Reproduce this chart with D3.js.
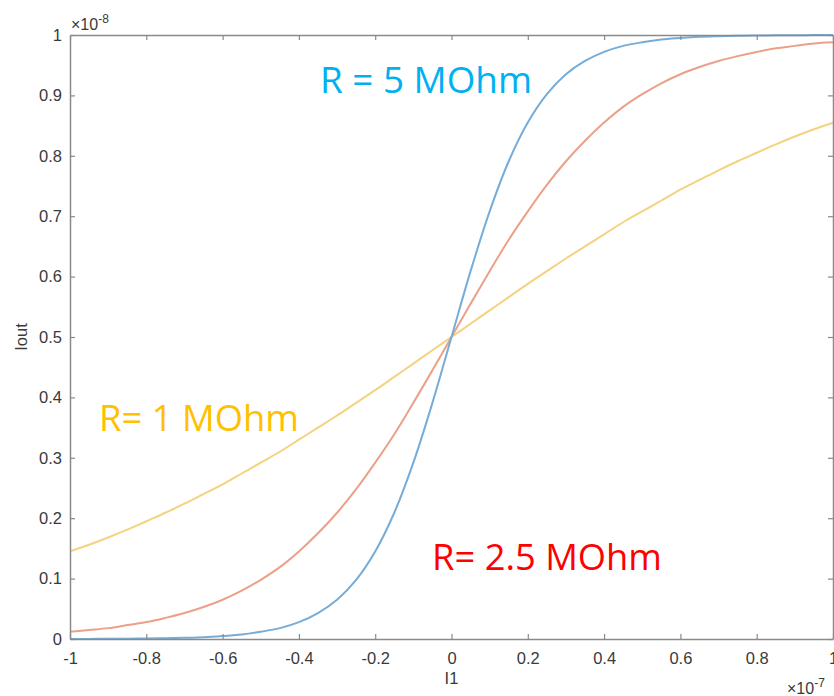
<!DOCTYPE html>
<html>
<head>
<meta charset="utf-8">
<script src="https://cdn.jsdelivr.net/npm/d3@7"></script>
<style>
  html, body { margin: 0; padding: 0; background: #fff; }
  svg { display: block; }
</style>
</head>
<body>
<svg id="chart" width="834" height="696"></svg>
<script>
// Input current I1 (units of 1e-7 A)
const I1 = [-1, -0.95, -0.9, -0.85, -0.8, -0.75, -0.7, -0.65, -0.6, -0.55, -0.5,
            -0.45, -0.4, -0.35, -0.3, -0.25, -0.2, -0.15, -0.1, -0.05, 0,
            0.05, 0.1, 0.15, 0.2, 0.25, 0.3, 0.35, 0.4, 0.45, 0.5,
            0.55, 0.6, 0.65, 0.7, 0.75, 0.8, 0.85, 0.9, 0.95, 1];

// Output current Iout (units of 1e-8 A) for each resistance
const iout1M = [0.145, 0.156, 0.168, 0.181, 0.195, 0.209, 0.224, 0.240, 0.256, 0.274, 0.292,
                0.310, 0.330, 0.350, 0.370, 0.391, 0.412, 0.434, 0.456, 0.478, 0.500,
                0.522, 0.544, 0.566, 0.588, 0.609, 0.630, 0.650, 0.670, 0.690, 0.708,
                0.726, 0.744, 0.760, 0.776, 0.791, 0.805, 0.819, 0.832, 0.844, 0.855];
const iout2_5M = [0.012, 0.015, 0.018, 0.023, 0.028, 0.035, 0.043, 0.053, 0.065, 0.080, 0.098,
                  0.119, 0.145, 0.175, 0.209, 0.248, 0.292, 0.339, 0.391, 0.445, 0.500,
                  0.555, 0.609, 0.661, 0.708, 0.752, 0.791, 0.825, 0.855, 0.881, 0.902,
                  0.920, 0.935, 0.947, 0.957, 0.965, 0.972, 0.978, 0.982, 0.986, 0.988];
const iout5M = [0.0001, 0.0002, 0.0003, 0.0005, 0.0008, 0.0013, 0.002, 0.003, 0.005, 0.0075, 0.012,
                0.018, 0.028, 0.043, 0.065, 0.098, 0.145, 0.209, 0.292, 0.391, 0.500,
                0.609, 0.708, 0.791, 0.855, 0.902, 0.935, 0.957, 0.972, 0.982, 0.988,
                0.9925, 0.995, 0.997, 0.998, 0.9987, 0.9992, 0.9995, 0.9997, 0.9998, 0.9999];

const seriesNames  = ["R = 5 MOhm", "R= 2.5 MOhm", "R= 1 MOhm"];
const seriesValues = [iout5M, iout2_5M, iout1M];
const lineColors   = ["#76acd8", "#eca088", "#f5d27f"];
const labelColors  = ["#00B0F0", "#FF0000", "#FFC000"];

const xTicks = [-1, -0.8, -0.6, -0.4, -0.2, 0, 0.2, 0.4, 0.6, 0.8, 1];
const yTicks = [0, 0.1, 0.2, 0.3, 0.4, 0.5, 0.6, 0.7, 0.8, 0.9, 1];

const svg = d3.select("#chart");
const plotLeft = 70, plotRight = 833, plotTop = 35, plotBottom = 639;

const x = d3.scaleLinear().domain([-1, 1]).range([plotLeft, plotRight]);
const y = d3.scaleLinear().domain([0, 1]).range([plotBottom, plotTop]);

const tickFont = "'Liberation Sans', Arial, sans-serif";
const axisColor = "#8a8a8a";
const textColor = "#3a3a3a";
const fontSize = "16.5px";
const fmt = d => String(d);

function styleAxis(g) {
  g.selectAll(".domain").attr("stroke", axisColor).attr("stroke-width", 1.5);
  g.selectAll(".tick line").attr("stroke", axisColor).attr("stroke-width", 1.2);
  g.selectAll(".tick text").attr("fill", textColor)
    .style("font-family", tickFont).style("font-size", fontSize);
}

// curves (drawn first so the box sits on top)
const line = d3.line()
  .x((d, i) => x(I1[i]))
  .y(d => y(d))
  .curve(d3.curveCatmullRom.alpha(0.5));

const plot = svg.append("g");
plot.append("defs").append("clipPath").attr("id", "clip")
  .append("rect").attr("x", plotLeft).attr("y", plotTop - 1)
  .attr("width", plotRight - plotLeft).attr("height", plotBottom - plotTop + 2);

seriesValues.slice().reverse().forEach((vals, k) => {
  const i = seriesValues.length - 1 - k;
  plot.append("path")
    .datum(vals)
    .attr("clip-path", "url(#clip)")
    .attr("fill", "none")
    .attr("stroke", lineColors[i])
    .attr("stroke-width", 2)
    .attr("d", line);
});

// box axes with inward ticks
const gB = svg.append("g").attr("transform", `translate(0,${plotBottom})`)
  .call(d3.axisBottom(x).tickValues(xTicks).tickFormat(fmt)
    .tickSizeInner(-5).tickSizeOuter(0).tickPadding(13));
styleAxis(gB);

const gT = svg.append("g").attr("transform", `translate(0,${plotTop})`)
  .call(d3.axisTop(x).tickValues(xTicks).tickFormat("")
    .tickSizeInner(-5).tickSizeOuter(0));
styleAxis(gT);

const gL = svg.append("g").attr("transform", `translate(${plotLeft},0)`)
  .call(d3.axisLeft(y).tickValues(yTicks).tickFormat(fmt)
    .tickSizeInner(-5).tickSizeOuter(0).tickPadding(8));
styleAxis(gL);

const gR = svg.append("g").attr("transform", `translate(${plotRight},0)`)
  .call(d3.axisRight(y).tickValues(yTicks).tickFormat("")
    .tickSizeInner(-5).tickSizeOuter(0));
styleAxis(gR);

// axis titles
svg.append("text")
  .attr("x", (plotLeft + plotRight) / 2).attr("y", 684)
  .attr("text-anchor", "middle")
  .attr("fill", textColor)
  .style("font-family", tickFont).style("font-size", fontSize)
  .text("I1");

svg.append("text")
  .attr("transform", "translate(27,337) rotate(-90)")
  .attr("text-anchor", "middle")
  .attr("fill", textColor)
  .style("font-family", tickFont).style("font-size", fontSize)
  .text("Iout");

// exponent multipliers
function multiplier(xPos, yPos, exp) {
  const t = svg.append("text")
    .attr("x", xPos).attr("y", yPos)
    .attr("fill", textColor)
    .style("font-family", tickFont).style("font-size", "16px");
  t.append("tspan").text("\u00d710");
  t.append("tspan").attr("dy", -7).style("font-size", "12px").text(exp);
}
multiplier(71, 30, "-8");
multiplier(787, 694, "-7");

// curve labels
const labelPos = [
  { x: 320, y: 93, w: 212 },
  { x: 432, y: 570, w: 230 },
  { x: 99,  y: 431, w: 200 }
];
seriesNames.forEach((name, i) => {
  svg.append("text")
    .attr("x", labelPos[i].x).attr("y", labelPos[i].y)
    .attr("fill", labelColors[i])
    .attr("textLength", labelPos[i].w)
    .attr("lengthAdjust", "spacingAndGlyphs")
    .style("font-family", "'Open Sans', 'Noto Sans', sans-serif")
    .style("font-size", "37px")
    .text(name);
});
</script>
</body>
</html>
